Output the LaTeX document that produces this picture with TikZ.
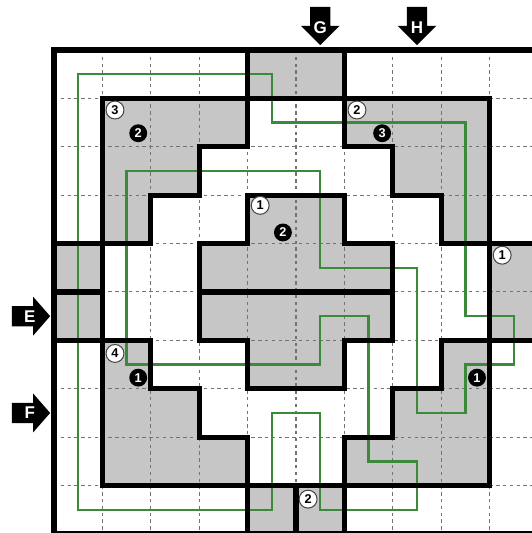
\documentclass[tikz,border=0pt]{standalone}
\usepackage{fontspec}
\setsansfont{Liberation Sans}
\definecolor{pathgreen}{RGB}{58,138,58}
\tikzset{
    wall/.style={line width=3pt, line join=miter, line cap=rect},
    cellline/.style={black!55, line width=0.6pt, dash pattern=on 2pt off 2pt},
    region/.style={fill=gray!45},
    route/.style={pathgreen, line width=1.5pt, line join=miter},
    clue/.style={circle, draw=gray!55!black, fill=white, line width=0.6pt, inner sep=0pt, minimum size=0.37cm, font=\sffamily\bfseries\fontsize{7.5}{7.5}\selectfont},
    darkclue/.style={circle, fill=black, text=white, inner sep=0pt, minimum size=0.37cm, font=\sffamily\bfseries\fontsize{7.5}{7.5}\selectfont},
    gate/.style={text=white, font=\sffamily\bfseries\fontsize{10}{10}\selectfont}
}
\begin{document}
\begin{tikzpicture}[x=1cm, y={(0,-1cm)}]
        \useasboundingbox (-1.116,-1.033) rectangle (9.876,9.98);
        \clip (-1.116,-1.033) rectangle (9.876,9.98);
        \fill[white] (-1.116,-1.033) rectangle (9.876,9.98);
        \fill[region] (4,0) rectangle (6,1);
        \fill[region] (4,9) rectangle (6,10);
        \fill[region] (0,4) rectangle (1,6);
        \fill[region] (9,4) rectangle (10,6);
        \fill[region] (1,1) -- (4,1) -- (4,2) -- (3,2) -- (3,3) -- (2,3) -- (2,4) -- (1,4) -- cycle;
        \fill[region] (6,1) -- (9,1) -- (9,4) -- (8,4) -- (8,3) -- (7,3) -- (7,2) -- (6,2) -- cycle;
        \fill[region] (1,6) -- (2,6) -- (2,7) -- (3,7) -- (3,8) -- (4,8) -- (4,9) -- (1,9) -- cycle;
        \fill[region] (9,6) -- (9,9) -- (6,9) -- (6,8) -- (7,8) -- (7,7) -- (8,7) -- (8,6) -- cycle;
        \fill[region] (4,3) -- (6,3) -- (6,4) -- (7,4) -- (7,6) -- (6,6) -- (6,7) -- (4,7) -- (4,6) -- (3,6) -- (3,4) -- (4,4) -- cycle;
        \foreach \k in {1,...,9} {
            \draw[cellline] (\k,0) -- (\k,10);
            \draw[cellline] (0,\k) -- (10,\k);
        }
        \draw[route] (0.5,0.5) -- (4.5,0.5) -- (4.5,1.5) -- (8.5,1.5) -- (8.5,5.5) -- (9.5,5.5) -- (9.5,6.5) -- (8.5,6.5) -- (8.5,7.5) -- (7.5,7.5) -- (7.5,4.5) -- (5.5,4.5) -- (5.5,2.5) -- (1.5,2.5) -- (1.5,6.5) -- (5.5,6.5) -- (5.5,5.5) -- (6.5,5.5) -- (6.5,8.5) -- (7.5,8.5) -- (7.5,9.5) -- (5.5,9.5) -- (5.5,7.5) -- (4.5,7.5) -- (4.5,9.5) -- (0.5,9.5) -- cycle;
        \draw[wall] (0,0) rectangle (10,10);
        \draw[wall] (1,1) rectangle (9,9);
        \draw[wall] (4,0) -- (4,2) -- (3,2) -- (3,3) -- (2,3) -- (2,4) -- (0,4);
        \draw[wall] (6,0) -- (6,2) -- (7,2) -- (7,3) -- (8,3) -- (8,4) -- (10,4);
        \draw[wall] (0,5) -- (1,5);
        \draw[wall] (0,6) -- (2,6) -- (2,7) -- (3,7) -- (3,8) -- (4,8) -- (4,10);
        \draw[wall] (10,6) -- (8,6) -- (8,7) -- (7,7) -- (7,8) -- (6,8) -- (6,10);
        \draw[wall] (5,9) -- (5,10);
        \draw[wall] (4,3) -- (6,3) -- (6,4) -- (7,4) -- (7,6) -- (6,6) -- (6,7) -- (4,7) -- (4,6) -- (3,6) -- (3,4) -- (4,4) -- cycle;
        \draw[wall] (3,5) -- (7,5);
        \node[clue] (c1) at (1.26,1.24) {3};
        \node[clue] (c2) at (6.26,1.24) {2};
        \node[clue] (c3) at (4.26,3.21) {1};
        \node[clue] (c4) at (9.26,4.24) {1};
        \node[clue] (c5) at (1.26,6.27) {4};
        \node[clue] (c6) at (5.25,9.28) {2};
        \node[darkclue] (d1) at (1.74,1.72) {2};
        \node[darkclue] (d2) at (6.78,1.72) {3};
        \node[darkclue] (d3) at (4.73,3.77) {2};
        \node[darkclue] (d4) at (1.74,6.77) {1};
        \node[darkclue] (d5) at (8.74,6.77) {1};
        \fill (-0.87,5.29) -- (-0.43,5.29) -- (-0.43,5.1) -- (-0.08,5.5) -- (-0.43,5.9) -- (-0.43,5.71) -- (-0.87,5.71) -- cycle;
        \fill (-0.87,7.29) -- (-0.43,7.29) -- (-0.43,7.1) -- (-0.08,7.5) -- (-0.43,7.9) -- (-0.43,7.71) -- (-0.87,7.71) -- cycle;
        \fill (5.29,-0.89) -- (5.29,-0.5) -- (5.1,-0.5) -- (5.5,-0.1) -- (5.9,-0.5) -- (5.71,-0.5) -- (5.71,-0.89) -- cycle;
        \fill (7.29,-0.89) -- (7.29,-0.5) -- (7.1,-0.5) -- (7.5,-0.1) -- (7.9,-0.5) -- (7.71,-0.5) -- (7.71,-0.89) -- cycle;
        \node[gate] (gE) at (-0.5,5.5) {E};
        \node[gate] (gF) at (-0.5,7.5) {F};
        \node[gate] (gG) at (5.5,-0.47) {G};
        \node[gate] (gH) at (7.5,-0.47) {H};
    \end{tikzpicture}
\end{document}
